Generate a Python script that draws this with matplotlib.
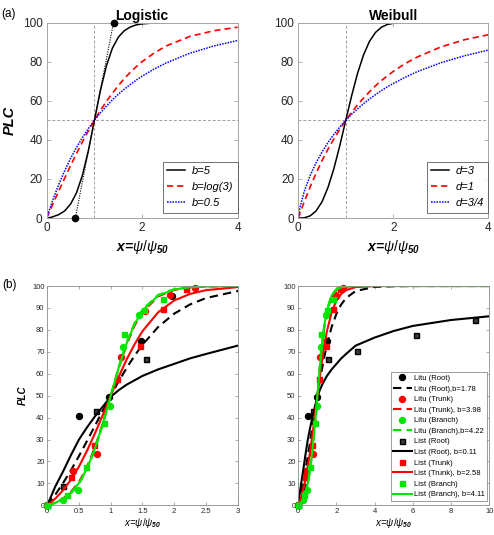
import numpy as np
import matplotlib
matplotlib.use('Agg')
import matplotlib.pyplot as plt

plt.rcParams['font.family'] = ['Liberation Sans', 'DejaVu Sans']
plt.rcParams['mathtext.fontset'] = 'custom'
plt.rcParams['mathtext.rm'] = 'Liberation Sans'
plt.rcParams['mathtext.it'] = 'Liberation Sans:italic'
plt.rcParams['mathtext.bf'] = 'Liberation Sans:bold:italic'

# (a) model curves
x_top = [0, 0.03125, 0.125, 0.25, 0.375, 0.5, 0.625, 0.75, 0.875, 1, 1.125, 1.25, 1.375,
         1.5, 1.625, 1.75, 1.875, 2, 2.25, 2.5, 3, 3.5, 4]
logi_b5 = [0, 0, 0.6, 1.7, 3.6, 7.1, 12.9, 22.0, 34.7, 50, 65.2, 77.8, 86.8, 92.5, 95.8,
           97.7, 98.8, 99.3, 99.8, 99.95, 100, 100, 100]
logi_blog3 = [0, 1.7, 6.9, 13.7, 20.3, 26.8, 33.0, 39.0, 44.7, 50, 55.0, 59.6, 63.8, 67.7,
              71.3, 74.5, 77.4, 80.0, 84.4, 88.0, 92.9, 95.8, 97.6]
logi_b05 = [0, 2.4, 9.0, 17.0, 24.1, 30.5, 36.1, 41.2, 45.8, 50, 53.8, 57.2, 60.4, 63.3,
            65.9, 68.3, 70.5, 72.6, 76.2, 79.3, 84.3, 88.0, 90.8]
weib_d3 = [0, 0, 0.1, 1.1, 3.6, 8.3, 15.6, 25.3, 37.1, 50, 62.7, 74.2, 83.5, 90.4, 94.9,
           97.6, 99.0, 99.6, 99.96, 100, 100, 100, 100]
weib_d1 = [0, 2.1, 8.3, 15.9, 22.9, 29.3, 35.2, 40.5, 45.5, 50, 54.1, 58.0, 61.4, 64.6,
           67.6, 70.3, 72.7, 75.0, 79.0, 82.3, 87.5, 91.2, 93.75]
weib_d34 = [0, 5.0, 13.6, 21.7, 28.3, 33.8, 38.6, 42.8, 46.6, 50, 53.1, 55.9, 58.5, 60.9,
            63.1, 65.2, 67.1, 68.8, 72.0, 74.8, 79.4, 83.0, 85.9]
tangent_x = [0.6, 1.4]
tangent_y = [0, 100]

# (b) fitted curves
x_bot = [0, 0.125, 0.25, 0.375, 0.5, 0.625, 0.75, 0.875, 1, 1.125, 1.25, 1.375, 1.5,
         1.75, 2, 2.25, 2.5, 3, 4, 5, 6, 8, 10]
fit_litu_root = [0, 4.8, 10.2, 16.1, 22.5, 29.3, 36.2, 43.2, 50, 56.5, 62.6, 68.2, 73.2,
                 81.4, 87.4, 91.6, 94.5, 97.7, 99.6, 99.9, 100, 100, 100]
fit_litu_trunk = [0, 1.2, 3.1, 6.2, 10.7, 17.4, 26.4, 37.5, 50, 62.4, 73.2, 81.9, 88.1,
                  95.3, 98.2, 99.3, 99.75, 99.97, 100, 100, 100, 100, 100]
fit_litu_branch = [0, 1.0, 2.7, 5.5, 9.8, 16.2, 25.3, 36.9, 50, 63.0, 74.4, 83.1, 89.3,
                   96.0, 98.6, 99.5, 99.8, 100, 100, 100, 100, 100, 100]
fit_list_root = [0, 8.5, 15.5, 23, 30, 35.5, 40.5, 45, 49.5, 52.5, 55, 57, 59, 62, 64.5,
                 67, 69, 72.8, 76.5, 79.5, 81.8, 84.5, 86.2]
fit_list_trunk = [0, 3.0, 6.9, 11.8, 17.7, 24.8, 32.7, 41.2, 50, 58.5, 66.5, 73.4, 79.4,
                  88.1, 93.4, 96.4, 98.1, 99.5, 99.96, 100, 100, 100, 100]
fit_list_branch = [0, 1.1, 2.9, 5.8, 10.2, 16.7, 25.8, 37.2, 50, 62.7, 73.8, 82.6, 88.8,
                   95.7, 98.4, 99.4, 99.8, 100, 100, 100, 100, 100, 100]

# (b) measured points
litu_root_x = [0, 0.5, 0.97, 1.48, 1.97]
litu_root_y = [0, 40.5, 49.5, 74.8, 95.4]
litu_trunk_x = [0, 0.41, 0.79, 1.16, 1.54, 1.93, 2.32]
litu_trunk_y = [0, 15.8, 23.5, 67.8, 88.5, 95.8, 98.9]
litu_branch_x = [0, 0.24, 0.48, 0.99, 1.2, 1.45]
litu_branch_y = [0, 2.2, 7.2, 45.2, 72.2, 87.0]
list_root_x = [0, 0.25, 0.77, 1.55, 3.09, 6.14, 9.27]
list_root_y = [0, 8.7, 43.1, 66.6, 70.5, 77.7, 84.5]
list_trunk_x = [0, 0.37, 0.74, 1.10, 1.46, 1.83, 2.19]
list_trunk_y = [0, 12.8, 27.5, 57.4, 72.6, 89.7, 98.5]
list_branch_x = [0, 0.31, 0.61, 0.90, 1.21, 1.52, 1.82]
list_branch_y = [0, 4.7, 17.3, 37.4, 78.0, 89.0, 93.9]

GREEN = '#00e600'
SPINE = '#a6a6a6'
TXT = '#262626'

fig = plt.figure(figsize=(4.94, 5.35), dpi=100)


def style_top(ax):
    ax.set_xlim(0, 4)
    ax.set_ylim(0, 100)
    ax.set_xticks([0, 2, 4])
    ax.set_yticks(np.arange(0, 101, 20))
    for s in ax.spines.values():
        s.set_color(SPINE)
        s.set_linewidth(0.7)
    ax.tick_params(direction='in', length=3, width=0.6, color=SPINE, labelcolor=TXT,
                   labelsize=8.5, top=True, right=True, pad=3)
    ax.axvline(1, color='#a0a0a0', lw=0.7, ls=(0, (3, 2)), zorder=1)
    ax.axhline(50, color='#a0a0a0', lw=0.7, ls=(0, (3, 2)), zorder=1)
    ax.set_xlabel(r'x=$\psi/\psi_{\mathbf{50}}$', fontsize=10, fontweight='bold',
                  fontstyle='italic', labelpad=3)


def style_bot(ax, xmax, xticks):
    ax.set_xlim(0, xmax)
    ax.set_ylim(0, 100)
    ax.set_xticks(xticks)
    ax.set_xticklabels([('%g' % t) for t in xticks])
    ax.set_yticks(np.arange(0, 101, 10))
    for s in ax.spines.values():
        s.set_color('#8c8c8c')
        s.set_linewidth(0.6)
    ax.tick_params(direction='in', length=2.5, width=0.5, color='#8c8c8c', labelcolor=TXT,
                   labelsize=5.5, top=True, right=True, pad=2)
    ax.set_xlabel(r'x=$\psi/\psi_{\mathbf{50}}$', fontsize=7, fontstyle='italic',
                  labelpad=1)


def pts(xs, ys, xmax):
    keep = [(a, b) for a, b in zip(xs, ys) if a <= xmax]
    return [a for a, b in keep], [b for a, b in keep]


# ---- (a) Logistic
ax1 = fig.add_axes([0.0945, 0.5925, 0.3866, 0.3654])
style_top(ax1)
ax1.plot(tangent_x, tangent_y, color='k', lw=0.8, ls=(0, (1, 1.2)), marker='o', ms=4.5,
         clip_on=False, zorder=4)
ax1.plot(x_top, logi_b5, color='k', lw=1.1, label='b=5')
ax1.plot(x_top, logi_blog3, color='r', lw=1.2, ls=(0, (3.7, 2.4)), label='b=log(3)')
ax1.plot(x_top, logi_b05, color='b', lw=1.1, ls=(0, (1, 0.8)), label='b=0.5')
ax1.set_title('Logistic', fontsize=10, fontweight='bold', pad=2)
ax1.set_ylabel('PLC', fontsize=10.5, fontweight='bold', fontstyle='italic', labelpad=4)
leg = ax1.legend(loc='lower right', bbox_to_anchor=(1.0, 0.027), borderaxespad=0,
                 fancybox=False, edgecolor='#333333', handlelength=1.6,
                 labelspacing=0.55, borderpad=0.4, handletextpad=0.6,
                 prop={'style': 'italic', 'size': 8})
leg.get_frame().set_linewidth(0.6)

# ---- (a) Weibull
ax2 = fig.add_axes([0.6038, 0.5925, 0.3846, 0.3654])
style_top(ax2)
ax2.plot(x_top, weib_d3, color='k', lw=1.1, label='d=3')
ax2.plot(x_top, weib_d1, color='r', lw=1.2, ls=(0, (3.7, 2.4)), label='d=1')
ax2.plot(x_top, weib_d34, color='b', lw=1.1, ls=(0, (1, 0.8)), label='d=3/4')
ax2.set_title('Weibull', fontsize=10, fontweight='bold', pad=2)
leg = ax2.legend(loc='lower right', bbox_to_anchor=(1.0, 0.027), borderaxespad=0,
                 fancybox=False, edgecolor='#333333', handlelength=1.6,
                 labelspacing=0.55, borderpad=0.4, handletextpad=0.6,
                 prop={'style': 'italic', 'size': 8})
leg.get_frame().set_linewidth(0.6)

fig.text(0.002, 0.985, '(a)', fontsize=8.5, va='top', ha='left')
fig.text(0.004, 0.478, '(b)', fontsize=8.5, va='top', ha='left')


def draw_bottom(ax, xmax):
    h = []
    h += ax.plot(*pts(litu_root_x, litu_root_y, xmax), 'o', color='k', ms=4.3,
                 clip_on=False, label='Litu (Root)')
    h += ax.plot(x_bot, fit_litu_root, color='k', lw=1.5, ls=(0, (4, 2.5)),
                 label='Litu (Root),b=1.78')
    h += ax.plot(*pts(litu_trunk_x, litu_trunk_y, xmax), 'o', color='r', ms=4.3,
                 clip_on=False, label='Litu (Trunk)')
    h += ax.plot(x_bot, fit_litu_trunk, color='r', lw=1.5, ls=(0, (4, 2.5)),
                 label='Litu (Trunk), b=3.98')
    h += ax.plot(*pts(litu_branch_x, litu_branch_y, xmax), 'o', color=GREEN, ms=4.3,
                 clip_on=False, label='Litu (Branch)')
    h += ax.plot(x_bot, fit_litu_branch, color=GREEN, lw=1.5, ls=(0, (4, 2.5)),
                 label='Litu (Branch),b=4.22')
    h += ax.plot(*pts(list_root_x, list_root_y, xmax), 's', color='k', mfc='#3a3a3a',
                 ms=3.6, clip_on=False, label='List (Root)')
    h += ax.plot(x_bot, fit_list_root, color='k', lw=1.5, label='List (Root), b=0.11')
    h += ax.plot(*pts(list_trunk_x, list_trunk_y, xmax), 's', color='r', ms=3.6,
                 clip_on=False, label='List (Trunk)')
    h += ax.plot(x_bot, fit_list_trunk, color='r', lw=1.5, label='List (Trunk), b=2.58')
    h += ax.plot(*pts(list_branch_x, list_branch_y, xmax), 's', color=GREEN, ms=3.6,
                 clip_on=False, label='List (Branch)')
    h += ax.plot(x_bot, fit_list_branch, color=GREEN, lw=1.5,
                 label='List (Branch), b=4.11')
    return h


# ---- (b) left
ax3 = fig.add_axes([0.0957, 0.0555, 0.3854, 0.4099])
style_bot(ax3, 3, [0, 0.5, 1, 1.5, 2, 2.5, 3])
draw_bottom(ax3, 3)
ax3.set_ylabel('PLC', fontsize=7, fontweight='bold', fontstyle='italic', labelpad=3)

# ---- (b) right
ax4 = fig.add_axes([0.6038, 0.0555, 0.3866, 0.4099])
style_bot(ax4, 10, [0, 2, 4, 6, 8, 10])
handles = draw_bottom(ax4, 10)
leg = ax4.legend(handles=handles, loc='lower right', bbox_to_anchor=(0.99, 0.02),
                 borderaxespad=0, fancybox=False, edgecolor='#555555', fontsize=5.5,
                 handlelength=2.4, labelspacing=0.42, borderpad=0.35, handletextpad=0.3,
                 numpoints=1)
leg.get_frame().set_linewidth(0.5)

plt.savefig('out.png', dpi=100)
